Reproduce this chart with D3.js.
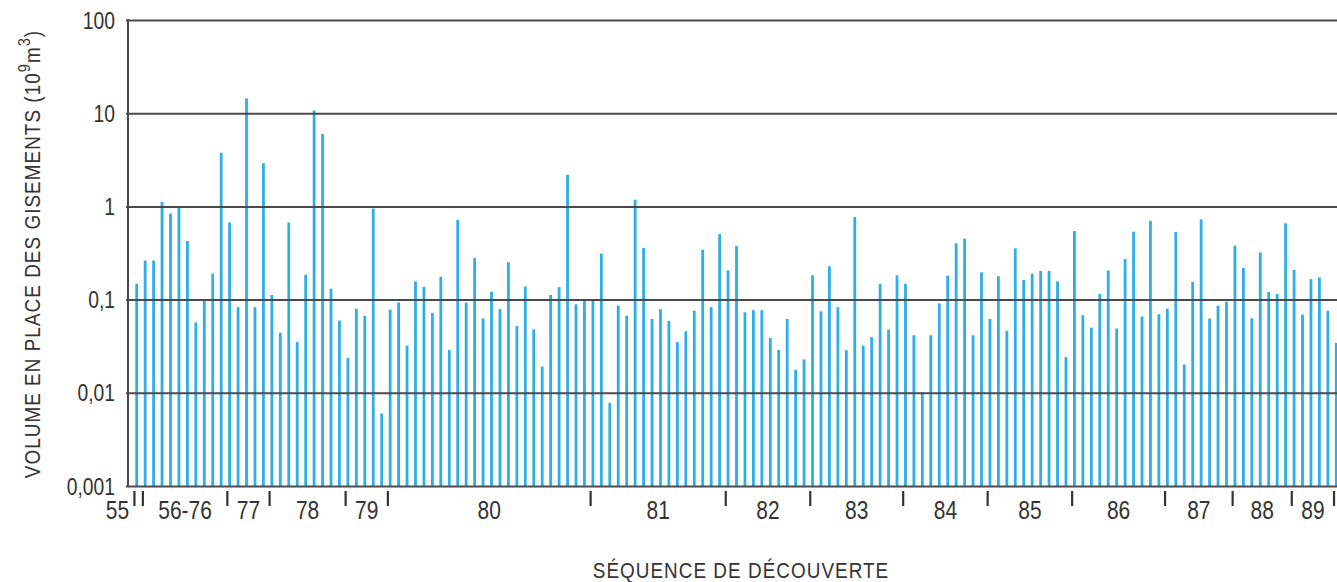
<!DOCTYPE html>
<html>
<head>
<meta charset="utf-8">
<script src="https://cdn.jsdelivr.net/npm/d3@7"></script>
<style>
  html, body { margin: 0; padding: 0; background: #ffffff; }
  svg { display: block; }
  text { font-family: "Liberation Sans", Arial, sans-serif; fill: #333333; }
</style>
</head>
<body>
<svg id="chart" width="1337" height="582"></svg>
<script>
// Volume in place of each discovered field, in discovery order (10^9 m3)
const volumes = [
  0.148, 0.262, 0.262, 1.12, 0.84, 0.98, 0.425, 0.057, 0.1, 0.19,
  3.76, 0.67, 0.083, 14.4, 0.083, 2.91, 0.112, 0.044, 0.67, 0.035,
  0.185, 10.7, 6.0, 0.131, 0.0596, 0.0237, 0.080, 0.067, 0.95, 0.006,
  0.078, 0.093, 0.032, 0.157, 0.137, 0.072, 0.176, 0.0289, 0.72, 0.093,
  0.279, 0.063, 0.122, 0.079, 0.251, 0.052, 0.138, 0.048, 0.0191, 0.112,
  0.136, 2.18, 0.089, 0.098, 0.098, 0.311, 0.0078, 0.086, 0.067, 1.18,
  0.358, 0.062, 0.079, 0.059, 0.035, 0.0458, 0.076, 0.343, 0.083, 0.506,
  0.206, 0.376, 0.073, 0.077, 0.077, 0.0388, 0.0289, 0.062, 0.0176, 0.0228,
  0.182, 0.075, 0.228, 0.083, 0.0287, 0.77, 0.032, 0.0395, 0.147, 0.0477,
  0.182, 0.148, 0.0415, 0.0102, 0.0415, 0.091, 0.181, 0.402, 0.451, 0.0415,
  0.196, 0.062, 0.178, 0.0462, 0.355, 0.163, 0.19, 0.203, 0.203, 0.157,
  0.0241, 0.544, 0.068, 0.05, 0.115, 0.205, 0.0489, 0.273, 0.535, 0.066,
  0.70, 0.0697, 0.080, 0.531, 0.0201, 0.155, 0.726, 0.0625, 0.086, 0.095,
  0.379, 0.218, 0.063, 0.321, 0.121, 0.115, 0.658, 0.208, 0.069, 0.166,
  0.173, 0.076, 0.0343
];

// Index of the first discovery of each year group (group boundaries)
const yearStarts = [0, 1, 11, 16, 25, 30, 54, 70, 80, 91, 101, 111, 122, 130, 137, 142];
const yearLabels = ["55", "56-76", "77", "78", "79", "80", "81", "82", "83", "84", "85", "86", "87", "88", "89"];

const yTicks = [0.001, 0.01, 0.1, 1, 10, 100];

const yTitle = ["VOLUME EN PLACE DES GISEMENTS (10", "9", "m", "3", ")"];
const xTitle = "SÉQUENCE DE DÉCOUVERTE";

const svg = d3.select("#chart");
const plot = { left: 128, right: 1337, top: 20, bottom: 486 };

const x = d3.scaleLinear()
  .domain([0, volumes.length - 1])
  .range([136.7, 1336.3]);
const step = x(1) - x(0);

const y = d3.scaleLog()
  .domain([0.001, 100])
  .range([plot.bottom, plot.top]);

const fmt = d => String(d).replace(".", ",");

// bars: thin stems rising from the floor of the log axis
svg.append("g")
  .selectAll("line")
  .data(volumes)
  .join("line")
  .attr("x1", (d, i) => x(i))
  .attr("x2", (d, i) => x(i))
  .attr("y1", y(0.001))
  .attr("y2", d => y(d))
  .attr("stroke", "#2eaee6")
  .attr("stroke-width", 2.8);

// horizontal grid lines + left axis labels
const yAxis = d3.axisLeft(y)
  .tickValues(yTicks)
  .tickFormat(fmt)
  .tickSize(-(plot.right - plot.left))
  .tickPadding(0);

const gy = svg.append("g")
  .attr("transform", `translate(${plot.left},0)`)
  .call(yAxis);
gy.select(".domain").remove();
gy.selectAll(".tick line")
  .attr("x1", -2)
  .attr("stroke", "#4a4a4a")
  .attr("stroke-width", 2);
gy.selectAll(".tick text")
  .attr("x", null)
  .attr("dy", null)
  .attr("dominant-baseline", "central")
  .attr("font-size", 23)
  .attr("fill", "#333333")
  .attr("font-family", "Liberation Sans, Arial, sans-serif")
  .attr("transform", "translate(-13,0) scale(0.84,1)");

// vertical axis line
svg.append("line")
  .attr("x1", plot.left).attr("x2", plot.left)
  .attr("y1", y(100) - 1).attr("y2", y(0.001) + 1)
  .attr("stroke", "#4a4a4a")
  .attr("stroke-width", 2);

// year boundary marks under the axis
const boundaryX = k => x(k) - 0.27 * step;
svg.append("g")
  .selectAll("line")
  .data(yearStarts)
  .join("line")
  .attr("x1", k => boundaryX(k))
  .attr("x2", k => boundaryX(k))
  .attr("y1", 491)
  .attr("y2", 506)
  .attr("stroke", "#333333")
  .attr("stroke-width", 2.2);

// year labels, centred between boundary marks
const labelPos = yearLabels.map((lab, i) => {
  if (i === 0) return { lab, cx: boundaryX(yearStarts[0]) - 17 };
  return { lab, cx: (boundaryX(yearStarts[i]) + boundaryX(yearStarts[i + 1])) / 2 };
});
svg.append("g")
  .selectAll("text")
  .data(labelPos)
  .join("text")
  .attr("transform", d => `translate(${d.cx},519) scale(0.84,1)`)
  .attr("text-anchor", "middle")
  .attr("font-size", 25)
  .text(d => d.lab);

// y axis title with superscripts
const yt = svg.append("text")
  .attr("transform", "translate(40,254) rotate(-90) scale(0.86,1)")
  .attr("text-anchor", "middle")
  .attr("font-size", 22)
  .attr("letter-spacing", 1.2);
yt.append("tspan").text(yTitle[0]);
yt.append("tspan").attr("dy", -10).attr("font-size", 17).text(yTitle[1]);
yt.append("tspan").attr("dy", 10).text(yTitle[2]);
yt.append("tspan").attr("dy", -10).attr("font-size", 17).text(yTitle[3]);
yt.append("tspan").attr("dy", 10).text(yTitle[4]);

// x axis title
svg.append("text")
  .attr("transform", "translate(741,578) scale(0.86,1)")
  .attr("text-anchor", "middle")
  .attr("font-size", 22)
  .attr("letter-spacing", 1.2)
  .text(xTitle);
</script>
</body>
</html>
